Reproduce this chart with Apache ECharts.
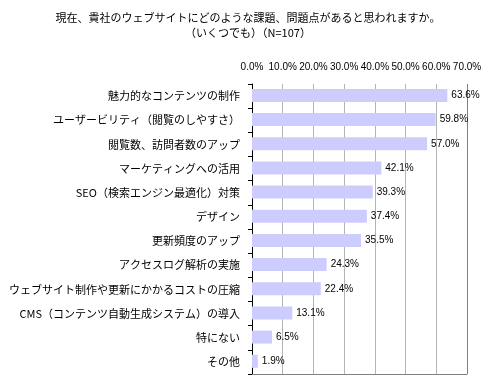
<!DOCTYPE html>
<html><head><meta charset="utf-8">
<script src="https://cdn.jsdelivr.net/npm/echarts@6/dist/echarts.min.js"></script>
<style>html,body{margin:0;padding:0;background:#fff}#c{width:489px;height:382px}</style>
</head><body><div id="c"></div>
<script>
const titleLines = ['現在、貴社のウェブサイトにどのような課題、問題点があると思われますか。', '（いくつでも）（N=107）'];
const categories = ['魅力的なコンテンツの制作','ユーザービリティ（閲覧のしやすさ）','閲覧数、訪問者数のアップ','マーケティングへの活用','SEO（検索エンジン最適化）対策','デザイン','更新頻度のアップ','アクセスログ解析の実施','ウェブサイト制作や更新にかかるコストの圧縮','CMS（コンテンツ自動生成システム）の導入','特にない','その他'];
const values = [63.6,59.8,57.0,42.1,39.3,37.4,35.5,24.3,22.4,13.1,6.5,1.9];
const axisMin = 0, axisMax = 70, axisStep = 10;

const font = '"Noto Sans CJK JP", "Liberation Sans", sans-serif';
const gridColors = ['#b4b4b4','#b4b4b4','#b4b4b4','#b4b4b4','#b4b4b4','#b4b4b4','#b4b4b4','#808080'];
const chart = echarts.init(document.getElementById('c'));
chart.setOption({
  animation: false,
  backgroundColor: '#fff',
  title: {
    text: titleLines.join('\n'),
    left: 243, top: 5, textAlign: 'center',
    textStyle: {fontFamily: font, fontSize: 11, fontWeight: 'normal', color: '#000', lineHeight: 15}
  },
  grid: {left: 252, right: 22, top: 84, bottom: 8, containLabel: false},
  xAxis: [{
    type: 'value', position: 'top', min: axisMin, max: axisMax, interval: axisStep,
    axisLine: {show: false}, axisTick: {show: false},
    axisLabel: {formatter: v => v.toFixed(1) + '%', fontFamily: '"Liberation Sans", Arial, sans-serif', fontSize: 10, color: '#000', margin: 12},
    splitLine: {show: true, lineStyle: {color: gridColors, width: 1}}
  }, {
    type: 'value', position: 'bottom', min: axisMin, max: axisMax, interval: axisStep,
    axisLine: {show: true, lineStyle: {color: '#808080', width: 1}}, axisTick: {show: false},
    axisLabel: {show: false}, splitLine: {show: false}
  }],
  yAxis: {
    type: 'category', data: categories, inverse: true,
    axisLine: {show: true, lineStyle: {color: '#000', width: 1}},
    axisTick: {show: true, length: 4, lineStyle: {color: '#000'}},
    axisLabel: {fontFamily: font, fontSize: 11, color: '#000', margin: 12}
  },
  series: [{
    type: 'bar', data: values, xAxisIndex: 0, barWidth: 13,
    itemStyle: {color: '#ccccff'},
    label: {show: true, position: 'right', distance: 4, formatter: p => p.value.toFixed(1) + '%', fontFamily: '"Liberation Sans", Arial, sans-serif', fontSize: 10, color: '#000'}
  }, {
    type: 'bar', data: [], xAxisIndex: 1
  }]
});
</script></body></html>
